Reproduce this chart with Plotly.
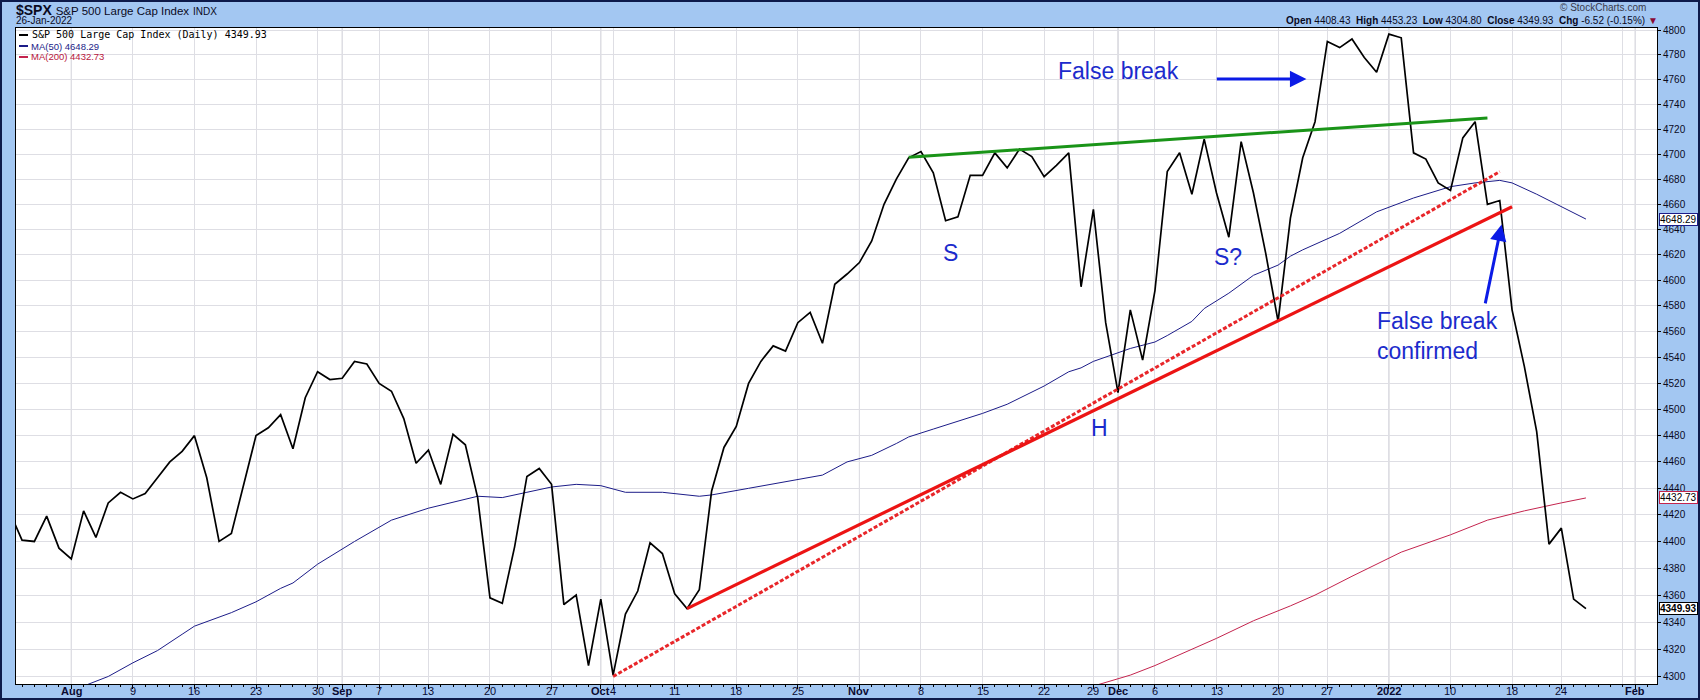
import numpy as np
import pandas as pd
import plotly.graph_objects as go

# ---------------- data ----------------
holidays = ["2021-09-06", "2021-11-25", "2021-12-24", "2022-01-17"]
trading_days = pd.bdate_range("2021-07-26", "2022-02-04", freq="C", holidays=holidays)
day_index = {d.strftime("%Y-%m-%d"): i for i, d in enumerate(trading_days)}

close_jul = [4422, 4401, 4400, 4419, 4395]
close_aug = [4387, 4423, 4403, 4429, 4437, 4432, 4436, 4448, 4460, 4468, 4480, 4448, 4400, 4406,
             4442, 4480, 4486, 4496, 4470, 4509, 4529, 4523]
close_sep = [4524, 4537, 4535, 4520, 4514, 4493, 4459, 4469, 4443, 4481, 4473, 4433, 4358, 4354,
             4396, 4449, 4455, 4443, 4353, 4360, 4308]
close_oct = [4357, 4301, 4346, 4363, 4399, 4391, 4361, 4350, 4364, 4438, 4471, 4487, 4520, 4537,
             4549, 4545, 4567, 4575, 4551, 4597, 4605]
close_nov = [4614, 4631, 4660, 4680, 4697, 4702, 4685, 4647, 4650, 4683, 4683, 4701, 4689, 4704,
             4698, 4682, 4691, 4701, 4595, 4656, 4567]
close_dec = [4513, 4577, 4538, 4592, 4686, 4701, 4668, 4712, 4669, 4634, 4710, 4669, 4621, 4568,
             4649, 4697, 4726, 4791, 4786, 4793, 4778, 4766]
close_jan = [4797, 4794, 4701, 4696, 4677, 4671, 4713, 4726, 4660, 4663, 4577, 4533, 4483, 4398,
             4410, 4357, 4349.93]
spx_close = close_jul + close_aug + close_sep + close_oct + close_nov + close_dec + close_jan

ma50_dates = ["2021-08-03", "2021-08-05", "2021-08-09", "2021-08-11", "2021-08-13", "2021-08-16",
              "2021-08-19", "2021-08-23", "2021-08-25", "2021-08-26", "2021-08-30", "2021-09-02",
              "2021-09-08", "2021-09-13", "2021-09-17", "2021-09-21", "2021-09-23", "2021-09-27",
              "2021-09-29", "2021-10-01", "2021-10-05", "2021-10-08", "2021-10-13", "2021-10-14",
              "2021-10-19", "2021-10-22", "2021-10-27", "2021-10-29", "2021-11-02", "2021-11-04",
              "2021-11-05", "2021-11-09", "2021-11-10", "2021-11-11", "2021-11-15", "2021-11-17",
              "2021-11-22", "2021-11-24", "2021-11-26", "2021-11-29", "2021-12-02", "2021-12-06",
              "2021-12-07", "2021-12-09", "2021-12-10", "2021-12-14", "2021-12-16", "2021-12-20",
              "2021-12-21", "2021-12-22", "2021-12-28", "2021-12-31", "2022-01-05", "2022-01-10",
              "2022-01-12", "2022-01-14", "2022-01-18", "2022-01-20", "2022-01-24", "2022-01-26"]
ma50_values = [4293, 4300, 4310, 4319, 4331, 4337,
               4347, 4355, 4365, 4369, 4383, 4400,
               4416, 4425, 4434, 4433, 4437, 4441,
               4443, 4442, 4437, 4437, 4434, 4435,
               4440, 4445, 4450, 4460, 4465, 4474,
               4479, 4485, 4488, 4491, 4497, 4504,
               4518, 4529, 4532, 4537, 4547, 4552,
               4557, 4568, 4578, 4590, 4604, 4612,
               4619, 4624, 4637, 4654, 4665, 4674,
               4677, 4679, 4677, 4668, 4658, 4648.29]

ma200_dates = ["2021-11-29", "2021-12-01", "2021-12-02", "2021-12-06", "2021-12-08", "2021-12-13",
               "2021-12-16", "2021-12-20", "2021-12-21", "2021-12-23", "2021-12-29", "2022-01-04",
               "2022-01-10", "2022-01-13", "2022-01-19", "2022-01-24", "2022-01-26"]
ma200_values = [4293, 4298, 4301, 4308, 4316, 4328,
                4341, 4348, 4352, 4360, 4374, 4392,
                4405, 4416, 4423, 4429, 4432.73]

neckline_dates = ["2021-11-05", "2022-01-13"]
neckline_values = [4697.5, 4729]
uptrend_dates = ["2021-10-12", "2022-01-18"]
uptrend_values = [4350, 4658]
uptrend2_dates = ["2021-10-04", "2022-01-14"]
uptrend2_values = [4300, 4686]

y_ticks = list(range(4300, 4801, 20))

# ---------------- geometry helpers ----------------
W, H = 1700, 700
L, R, T, B = 16, 1657, 28, 684
Y_LO, Y_HI = 4294.5, 4802.0
X_LO, X_HI = 0.51, 133.77


def px(x):
    return (x - L) / (R - L)


def py(y):
    return (B - y) / (B - T)


def idx(dates):
    return [day_index[d] for d in dates]


# ---------------- x ticks ----------------
tickvals, ticktext, month_lines = [], [], []
days_list = list(trading_days)
raw = []
for i, d in enumerate(days_list):
    if i > 133:
        break
    month_first = i == 0 or d.month != days_list[i - 1].month
    week_first = i == 0 or d.weekday() <= days_list[i - 1].weekday()
    if month_first:
        lab = "2022" if d.month == 1 else d.strftime("%b")
        raw.append((i, "<b>%s</b>" % lab, True))
        month_lines.append(i)
    elif week_first:
        raw.append((i, str(d.day), False))
for k, (i, lab, is_m) in enumerate(raw):
    if not is_m and k + 1 < len(raw) and raw[k + 1][2] and raw[k + 1][0] - i <= 1:
        lab = ""
    tickvals.append(i)
    ticktext.append(lab)

fig = go.Figure()

fig.add_trace(go.Scatter(x=idx(ma200_dates), y=ma200_values, mode="lines",
                         line=dict(color="#c4244e", width=1), hoverinfo="skip"))
fig.add_trace(go.Scatter(x=idx(ma50_dates), y=ma50_values, mode="lines",
                         line=dict(color="#1c1c88", width=1), hoverinfo="skip"))
fig.add_trace(go.Scatter(x=list(range(len(spx_close))), y=spx_close, mode="lines",
                         line=dict(color="black", width=1.7), hoverinfo="skip"))
fig.add_trace(go.Scatter(x=idx(uptrend2_dates), y=uptrend2_values, mode="lines",
                         line=dict(color="#e8262a", width=3, dash="4px,2px"), hoverinfo="skip"))
fig.add_trace(go.Scatter(x=idx(uptrend_dates), y=uptrend_values, mode="lines",
                         line=dict(color="#ec1414", width=3.2), hoverinfo="skip"))
fig.add_trace(go.Scatter(x=idx(neckline_dates), y=neckline_values, mode="lines",
                         line=dict(color="#1a9418", width=3), hoverinfo="skip"))

shapes = []
for i in month_lines:
    shapes.append(dict(type="line", xref="x", yref="paper", x0=i, x1=i, y0=0, y1=1,
                       line=dict(color="#c2c2ca", width=1), layer="between"))
# outer frame
shapes.append(dict(type="rect", xref="paper", yref="paper", x0=px(1), x1=px(1699),
                   y0=py(699), y1=py(1), line=dict(color="#0d1a4a", width=2)))
# legend swatches
for yy, col in [(35, "black"), (46, "#1c1c88"), (57, "#c4244e")]:
    shapes.append(dict(type="line", xref="paper", yref="paper", x0=px(19), x1=px(28),
                       y0=py(yy), y1=py(yy), line=dict(color=col, width=2)))

blue_txt = "#1b2bcc"
arrow_col = "#0b1be6"
ann = []


def dat(date_idx, val, text, size=23, color=blue_txt, xanchor="center", align="center"):
    ann.append(dict(x=date_idx, y=np.log10(val), xref="x", yref="y", text=text, showarrow=False,
                    font=dict(family="Liberation Sans", size=size, color=color),
                    xanchor=xanchor, yanchor="middle", align=align))


dat(76.4, 4621.6, "S")
dat(98.9, 4618.4, "S?")
dat(88.5, 4485.9, "H")
dat(90.0, 4767.0, "False break")
dat(110.9, 4556.7, "False break<br>confirmed", xanchor="left", align="left")

# arrows
ann.append(dict(x=105.3, y=np.log10(4760.5), ax=97.9, ay=np.log10(4760.5), xref="x", yref="y",
                axref="x", ayref="y", text="", showarrow=True, arrowhead=2, arrowsize=1.1,
                arrowwidth=3, arrowcolor=arrow_col))
ann.append(dict(x=121.15, y=np.log10(4644), ax=119.8, ay=np.log10(4580.9), xref="x", yref="y",
                axref="x", ayref="y", text="", showarrow=True, arrowhead=2, arrowsize=1.1,
                arrowwidth=3, arrowcolor=arrow_col))

# x tick labels (drawn as text inside the bottom band)
for v, t in zip(tickvals, ticktext):
    if t == "" or v < X_LO or v > X_HI:
        continue
    ann.append(dict(x=v, y=py(690.5), xref="x", yref="paper", text=t, showarrow=False,
                    xanchor="center", yanchor="middle",
                    font=dict(family="Liberation Sans", size=11, color="#0a0a30")))

# header
ann.append(dict(x=px(14), y=py(10), xref="paper", yref="paper", xanchor="left", yanchor="middle",
                showarrow=False, align="left",
                text="<b>$SPX</b> <span style='font-size:11.5px'>S&amp;P 500 Large Cap Index</span>"
                     " <span style='font-size:10px'>INDX</span>",
                font=dict(family="Liberation Sans", size=14, color="#0a0a1e")))
ann.append(dict(x=px(14), y=py(20.5), xref="paper", yref="paper", xanchor="left", yanchor="middle",
                showarrow=False, text="26-Jan-2022",
                font=dict(family="Liberation Sans", size=10, color="#0a0a1e")))
ann.append(dict(x=px(1648), y=py(8), xref="paper", yref="paper", xanchor="right", yanchor="middle",
                showarrow=False, text="© StockCharts.com",
                font=dict(family="Liberation Sans", size=10, color="#3a3a4a")))
ann.append(dict(x=px(1660), y=py(20.5), xref="paper", yref="paper", xanchor="right", yanchor="middle",
                showarrow=False,
                text="<b>Open</b> 4408.43  <b>High</b> 4453.23  <b>Low</b> 4304.80  <b>Close</b> 4349.93"
                     "  <b>Chg</b> -6.52 (-0.15%) <span style='color:#8a0a36'>▼</span>",
                font=dict(family="Liberation Sans", size=10, color="#0a0a1e")))

# legend
ann.append(dict(x=px(30), y=py(35), xref="paper", yref="paper", xanchor="left", yanchor="middle",
                showarrow=False, text="S&amp;P 500 Large Cap Index (Daily) 4349.93",
                font=dict(family="DejaVu Sans Mono", size=10, color="black")))
for yy, txt, col in [(46, "MA(50) 4648.29", "#1c1c88"), (57, "MA(200) 4432.73", "#b8163c")]:
    ann.append(dict(x=px(29), y=py(yy), xref="paper", yref="paper", xanchor="left", yanchor="middle",
                    showarrow=False, text=txt,
                    font=dict(family="Liberation Sans", size=9.5, color=col)))

# price tags
for val, col, bold in [(4648.29, "#1c1c88", False), (4432.73, "#c4244e", False), (4349.93, "black", True)]:
    t = ("<b>%.2f</b>" if bold else "%.2f") % val
    ann.append(dict(x=1 + 2 / (R - L), y=np.log10(val), xref="paper", yref="y", xanchor="left",
                    yanchor="middle", showarrow=False, text=t, bgcolor="white", bordercolor=col,
                    borderwidth=1, borderpad=0,
                    font=dict(family="Liberation Sans", size=10, color="black")))

fig.update_layout(
    width=W, height=H,
    margin=dict(l=L, r=W - R, t=T, b=H - B, autoexpand=False),
    paper_bgcolor="#a3c7f2", plot_bgcolor="white", showlegend=False,
    shapes=shapes, annotations=ann,
    xaxis=dict(range=[X_LO, X_HI], tickmode="array", tickvals=tickvals, ticktext=ticktext,
               showticklabels=False,
               ticks="outside", ticklen=4, tickcolor="#000", automargin=False,
               showgrid=True, gridcolor="#dedee4", gridwidth=1, zeroline=False,
               showline=True, linecolor="black", linewidth=1, mirror=True,
               minor=dict(ticks="outside", ticklen=2, tickmode="linear", tick0=0, dtick=1,
                          tickcolor="#000", showgrid=False)),
    yaxis=dict(type="log", range=[np.log10(Y_LO), np.log10(Y_HI)], side="right",
               tickmode="array", tickvals=y_ticks, ticktext=[str(v) for v in y_ticks],
               ticks="outside", ticklen=3, tickcolor="#000", automargin=False,
               tickfont=dict(family="Liberation Sans", size=10, color="#0a0a1e"),
               showgrid=True, gridcolor="#dedee4", gridwidth=1, zeroline=False,
               showline=True, linecolor="black", linewidth=1, mirror=True),
)

fig.write_html("out.html", config={"displayModeBar": False},
               post_script="document.body.style.margin='0px';document.body.style.overflow='hidden';")
